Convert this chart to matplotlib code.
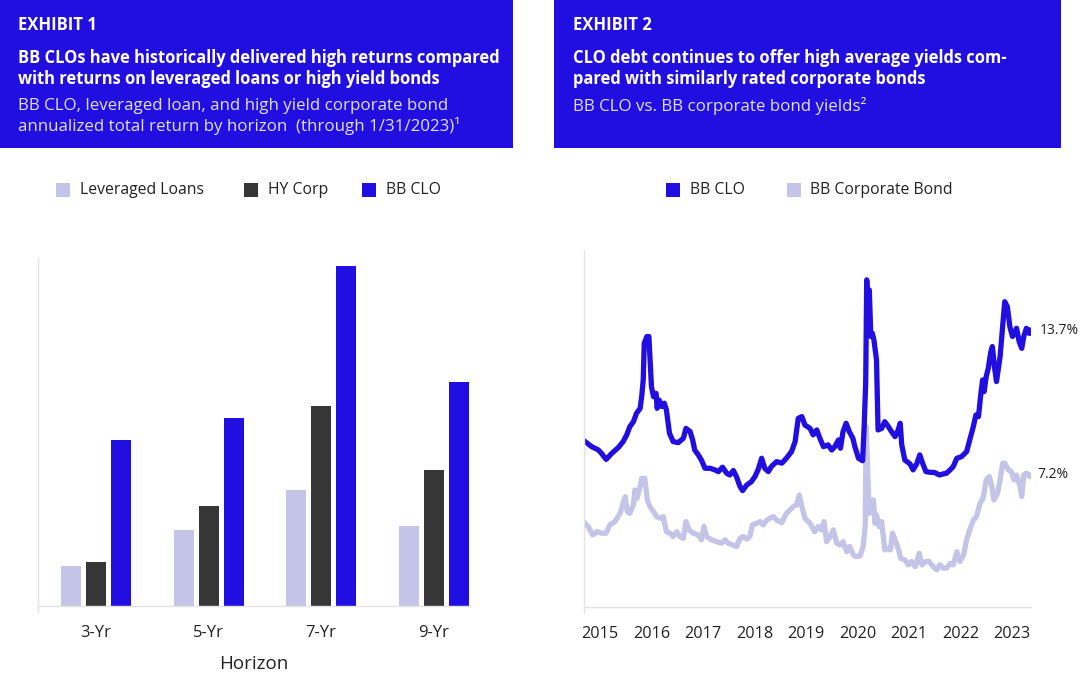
import matplotlib
matplotlib.use('Agg')
import matplotlib.pyplot as plt
from matplotlib.patches import Rectangle
import numpy as np

W, H = 1080, 673
plt.rcParams['font.family'] = ['Open Sans', 'DejaVu Sans']

BLUE = '#200FE0'
LAV = '#C4C3E8'
DARK = '#363636'
TXT = '#222222'
SPINE = '#E3E3E3'

# ---------------- data ----------------
horizons = ['3-Yr', '5-Yr', '7-Yr', '9-Yr']
lev_loans = [1.0, 1.9, 2.9, 2.0]
hy_corp = [1.1, 2.5, 5.0, 3.4]
bb_clo = [4.15, 4.7, 8.5, 5.6]

years = [2015, 2016, 2017, 2018, 2019, 2020, 2021, 2022, 2023]

clo_dates = [2014.71, 2014.84, 2014.97, 2015.03, 2015.12, 2015.23, 2015.36, 2015.45, 2015.52, 2015.58,
             2015.65, 2015.71, 2015.78, 2015.81, 2015.84, 2015.86, 2015.91, 2015.95, 2015.97, 2016.00,
             2016.04, 2016.09, 2016.11, 2016.15, 2016.20, 2016.25, 2016.29, 2016.35, 2016.42, 2016.52,
             2016.62, 2016.67, 2016.75, 2016.80, 2016.84, 2016.91, 2016.97, 2017.04, 2017.14, 2017.23,
             2017.30, 2017.38, 2017.46, 2017.52, 2017.59, 2017.65, 2017.72, 2017.77, 2017.85, 2017.94,
             2018.01, 2018.07, 2018.14, 2018.20, 2018.27, 2018.33, 2018.43, 2018.53, 2018.62, 2018.72,
             2018.79, 2018.85, 2018.92, 2018.98, 2019.08, 2019.14, 2019.21, 2019.27, 2019.34, 2019.43,
             2019.50, 2019.56, 2019.63, 2019.67, 2019.72, 2019.78, 2019.84, 2019.91, 2019.95, 2020.02,
             2020.10, 2020.13, 2020.16, 2020.18, 2020.20, 2020.23, 2020.26, 2020.29, 2020.32, 2020.37,
             2020.40, 2020.47, 2020.53, 2020.60, 2020.66, 2020.73, 2020.79, 2020.83, 2020.86, 2020.92,
             2021.02, 2021.08, 2021.15, 2021.21, 2021.27, 2021.33, 2021.41, 2021.50, 2021.59, 2021.67,
             2021.73, 2021.80, 2021.86, 2021.93, 2022.02, 2022.12, 2022.18, 2022.25, 2022.30, 2022.35,
             2022.39, 2022.43, 2022.46, 2022.50, 2022.54, 2022.59, 2022.62, 2022.66, 2022.70, 2022.77,
             2022.82, 2022.86, 2022.91, 2022.96, 2023.01, 2023.06, 2023.09, 2023.14, 2023.19, 2023.23,
             2023.28, 2023.34, 2023.35]
clo_yield = [8.70, 8.47, 8.32, 8.17, 7.90, 8.17, 8.44, 8.70, 9.00, 9.37,
             9.59, 9.97, 10.19, 10.71, 11.46, 13.11, 13.41, 13.41, 12.51, 11.16,
             10.71, 10.86, 10.19, 10.56, 10.27, 10.42, 10.12, 9.07, 8.70, 8.65,
             8.85, 9.29, 9.15, 8.77, 8.32, 8.10, 7.87, 7.50, 7.50, 7.43,
             7.35, 7.55, 7.28, 7.20, 7.40, 7.13, 6.68, 6.50, 6.75, 6.90,
             7.13, 7.43, 7.95, 7.50, 7.35, 7.58, 7.80, 7.73, 7.95, 8.25,
             8.70, 9.74, 9.82, 9.44, 9.29, 9.00, 9.22, 8.85, 8.47, 8.55,
             8.32, 8.47, 8.77, 8.40, 9.15, 9.52, 9.15, 8.85, 8.47, 7.95,
             7.84, 9.37, 11.31, 15.95, 14.75, 15.50, 13.41, 13.55, 13.26, 12.36,
             9.22, 9.29, 9.59, 9.37, 9.15, 8.92, 9.22, 9.52, 8.55, 7.87,
             7.70, 7.43, 7.70, 8.10, 7.70, 7.35, 7.32, 7.31, 7.20, 7.25,
             7.28, 7.43, 7.58, 7.95, 8.02, 8.25, 8.77, 9.37, 9.89, 9.82,
             10.71, 11.46, 10.94, 11.61, 11.98, 12.73, 12.96, 12.06, 11.39, 12.51,
             13.85, 14.97, 14.75, 13.85, 13.41, 13.63, 13.78, 13.18, 12.88, 13.41,
             13.78, 13.55, 13.70]

corp_dates = [2014.71, 2014.77, 2014.86, 2014.94, 2015.03, 2015.12, 2015.19, 2015.29, 2015.39, 2015.45,
              2015.49, 2015.53, 2015.58, 2015.65, 2015.68, 2015.72, 2015.78, 2015.81, 2015.87, 2015.92,
              2015.97, 2016.04, 2016.10, 2016.17, 2016.23, 2016.29, 2016.36, 2016.42, 2016.49, 2016.55,
              2016.62, 2016.67, 2016.73, 2016.81, 2016.91, 2016.97, 2017.02, 2017.07, 2017.17, 2017.27,
              2017.36, 2017.43, 2017.49, 2017.59, 2017.65, 2017.72, 2017.78, 2017.85, 2017.91, 2017.96,
              2018.04, 2018.11, 2018.17, 2018.24, 2018.30, 2018.37, 2018.43, 2018.53, 2018.62, 2018.69,
              2018.75, 2018.82, 2018.87, 2018.92, 2018.98, 2019.08, 2019.17, 2019.24, 2019.30, 2019.35,
              2019.40, 2019.47, 2019.53, 2019.60, 2019.66, 2019.72, 2019.79, 2019.85, 2019.92, 2019.98,
              2020.05, 2020.11, 2020.15, 2020.17, 2020.20, 2020.23, 2020.26, 2020.31, 2020.34, 2020.37,
              2020.42, 2020.47, 2020.53, 2020.60, 2020.64, 2020.68, 2020.73, 2020.79, 2020.84, 2020.92,
              2020.99, 2021.05, 2021.12, 2021.20, 2021.25, 2021.33, 2021.39, 2021.47, 2021.54, 2021.60,
              2021.67, 2021.73, 2021.80, 2021.86, 2021.93, 2021.99, 2022.06, 2022.12, 2022.18, 2022.25,
              2022.31, 2022.38, 2022.44, 2022.50, 2022.56, 2022.61, 2022.65, 2022.72, 2022.77, 2022.82,
              2022.86, 2022.93, 2022.99, 2023.04, 2023.09, 2023.16, 2023.19, 2023.23, 2023.28, 2023.34,
              2023.35]
corp_yield = [5.03, 4.89, 4.51, 4.66, 4.59, 4.59, 4.96, 5.11, 5.48, 5.93,
              6.23, 5.56, 5.48, 5.86, 6.53, 6.15, 6.68, 7.05, 7.05, 6.08,
              5.78, 5.56, 5.33, 5.26, 5.33, 4.66, 4.59, 4.44, 4.66, 4.44,
              4.36, 5.11, 4.74, 4.59, 4.51, 4.29, 4.89, 4.44, 4.29, 4.21,
              4.14, 4.29, 4.14, 4.06, 3.99, 4.36, 4.44, 4.32, 4.44, 4.96,
              5.03, 5.11, 4.96, 5.18, 5.26, 5.33, 5.18, 5.06, 5.48, 5.63,
              5.78, 5.86, 6.30, 5.78, 5.26, 5.03, 4.66, 4.89, 4.74, 5.11,
              4.21, 4.44, 4.74, 4.14, 4.06, 4.21, 3.76, 3.99, 3.61, 3.54,
              3.57, 3.99, 4.89, 9.37, 7.28, 5.48, 6.00, 6.08, 5.03, 5.41,
              4.89, 5.11, 3.84, 3.91, 3.84, 4.59, 4.29, 3.91, 3.46, 3.39,
              3.17, 3.32, 3.09, 3.69, 3.17, 3.32, 3.32, 3.09, 2.94, 3.17,
              3.02, 3.02, 3.24, 3.17, 3.76, 3.32, 3.61, 4.29, 4.74, 5.18,
              5.33, 5.93, 6.15, 6.98, 7.13, 6.68, 6.08, 6.38, 6.98, 7.73,
              7.73, 7.43, 7.35, 6.98, 7.20, 6.68, 6.23, 7.20, 7.28, 7.13,
              7.20]

# ---------------- figure ----------------
fig = plt.figure(figsize=(10.8, 6.73), dpi=100)


def fx(x):
    return x / W


def fy(y):
    return 1 - y / H


# header boxes
fig.patches.append(Rectangle((fx(0), fy(148)), 513 / W, 148 / H, transform=fig.transFigure,
                             facecolor=BLUE, edgecolor='none', zorder=0))
fig.patches.append(Rectangle((fx(554), fy(148)), (1061 - 554) / W, 148 / H, transform=fig.transFigure,
                             facecolor=BLUE, edgecolor='none', zorder=0))

SUB = '#E2DFFF'
HEAD_FS = 12
TITLE_FS = 11.9
SUB_FS = 12.2
fig.text(fx(18), fy(25), 'EXHIBIT 1', color='white', fontsize=HEAD_FS, fontweight='bold', va='center')
fig.text(fx(18), fy(58), 'BB CLOs have historically delivered high returns compared',
         color='white', fontsize=TITLE_FS, fontweight='bold', va='center')
fig.text(fx(18), fy(79), 'with returns on leveraged loans or high yield bonds',
         color='white', fontsize=TITLE_FS, fontweight='bold', va='center')
fig.text(fx(18), fy(106), 'BB CLO, leveraged loan, and high yield corporate bond',
         color=SUB, fontsize=SUB_FS, va='center')
fig.text(fx(18), fy(126), 'annualized total return by horizon  (through 1/31/2023)\u00b9',
         color=SUB, fontsize=SUB_FS, va='center')

fig.text(fx(573), fy(25), 'EXHIBIT 2', color='white', fontsize=HEAD_FS, fontweight='bold', va='center')
fig.text(fx(573), fy(58), 'CLO debt continues to offer high average yields com-',
         color='white', fontsize=TITLE_FS, fontweight='bold', va='center')
fig.text(fx(573), fy(79), 'pared with similarly rated corporate bonds',
         color='white', fontsize=TITLE_FS, fontweight='bold', va='center')
fig.text(fx(573), fy(106), 'BB CLO vs. BB corporate bond yields\u00b2',
         color=SUB, fontsize=SUB_FS, va='center')


# legends (manual)
def legend_item(x_sq, x_txt, color, label):
    fig.patches.append(Rectangle((fx(x_sq), fy(197)), 14 / W, 14 / H, transform=fig.transFigure,
                                 facecolor=color, edgecolor='none'))
    fig.text(fx(x_txt), fy(190), label, color=TXT, fontsize=11.3, va='center')


legend_item(56, 80, LAV, 'Leveraged Loans')
legend_item(244, 268, DARK, 'HY Corp')
legend_item(362, 386, BLUE, 'BB CLO')
legend_item(666, 690, BLUE, 'BB CLO')
legend_item(787, 810, LAV, 'BB Corporate Bond')

# ---------------- bar chart ----------------
ax1 = fig.add_axes([fx(38), fy(606), (470 - 38) / W, (606 - 258) / H])
xpos = np.arange(len(horizons))
bw = 0.178
off = 0.222
ax1.bar(xpos - off, lev_loans, bw, color=LAV)
ax1.bar(xpos, hy_corp, bw, color=DARK)
ax1.bar(xpos + off, bb_clo, bw, color=BLUE)
ax1.set_xlim(-0.516, 3.324)
ax1.set_ylim(0, 8.7)
ax1.set_xticks(xpos)
ax1.set_xticklabels(horizons, fontsize=12, color=TXT)
ax1.tick_params(axis='x', length=0, pad=14)
ax1.set_yticks([])
ax1.set_xlabel('Horizon', fontsize=13.5, color=TXT, labelpad=10)
for s in ['top', 'right']:
    ax1.spines[s].set_visible(False)
for s in ['left', 'bottom']:
    ax1.spines[s].set_color(SPINE)
    ax1.spines[s].set_linewidth(1)
ax1.plot([0, 0], [0, -0.018], transform=ax1.transAxes, color=SPINE, lw=1, clip_on=False)

# ---------------- line chart ----------------
ax2 = fig.add_axes([fx(584), fy(607), (1031 - 584) / W, (607 - 250) / H])
ax2.plot(corp_dates, corp_yield, color=LAV, lw=3.8, solid_joinstyle='round')
ax2.plot(clo_dates, clo_yield, color=BLUE, lw=3.8, solid_joinstyle='round')
ax2.set_xlim(2014.69, 2023.37)
ax2.set_ylim(1.28, 17.29)
ax2.set_xticks(years)
ax2.set_xticklabels([str(y) for y in years], fontsize=11.7, color=TXT)
ax2.tick_params(axis='x', length=0, pad=14)
ax2.set_yticks([])
for s in ['top', 'right']:
    ax2.spines[s].set_visible(False)
for s in ['left', 'bottom']:
    ax2.spines[s].set_color(SPINE)
    ax2.spines[s].set_linewidth(1)
ax2.plot([0, 0], [0, -0.018], transform=ax2.transAxes, color=SPINE, lw=1, clip_on=False)

ax2.annotate(f'{clo_yield[-1]:.1f}%', xy=(clo_dates[-1], clo_yield[-1]), xytext=(7, 0),
             textcoords='offset points', va='center', fontsize=10, color=TXT, annotation_clip=False)
ax2.annotate(f'{corp_yield[-1]:.1f}%', xy=(corp_dates[-1], corp_yield[-1]), xytext=(5.5, 0),
             textcoords='offset points', va='center', fontsize=10, color=TXT, annotation_clip=False)

fig.savefig('out.png', dpi=100)
